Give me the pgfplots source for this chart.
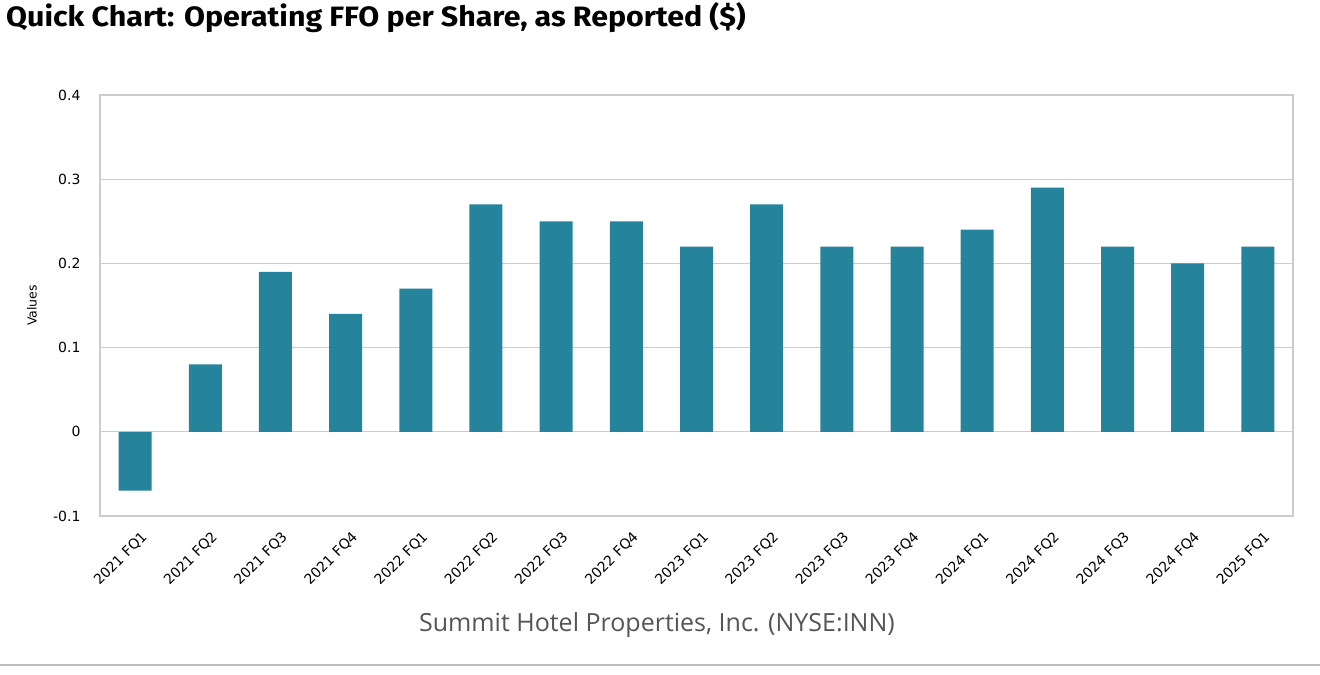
\documentclass[border=0pt]{standalone}
\usepackage{pgfplots}
\pgfplotsset{compat=1.18}
\usepackage{fontspec}
\setmainfont{DejaVu Sans}
\newfontfamily\titlefont{Fira Sans}
\newfontfamily\labfont{Open Sans}
\definecolor{barc}{HTML}{25839B}
\definecolor{gridc}{HTML}{CCCCCC}
\definecolor{labc}{HTML}{555555}
\begin{document}
\begin{tikzpicture}
\path[use as bounding box] (0,0) rectangle (1320bp,675bp);
\node[anchor=west, inner sep=0pt] at (6bp,657bp) {\titlefont\bfseries\fontsize{28bp}{32bp}\selectfont\scalebox{1.085}[1]{Quick Chart: Operating FFO per Share, as Reported (\$)}};
\begin{axis}[
  at={(100bp,159bp)}, anchor=south west,
  scale only axis, width=1193bp, height=421bp,
  xmin=-0.5, xmax=16.5, ymin=-0.1, ymax=0.4,
  ytick={-0.1,0,0.1,0.2,0.3,0.4},
  yticklabels={-0.1,0,0.1,0.2,0.3,0.4},
  xtick={0,...,16},
  xticklabels={2021 FQ1,2021 FQ2,2021 FQ3,2021 FQ4,2022 FQ1,2022 FQ2,2022 FQ3,2022 FQ4,2023 FQ1,2023 FQ2,2023 FQ3,2023 FQ4,2024 FQ1,2024 FQ2,2024 FQ3,2024 FQ4,2025 FQ1},
  /pgf/number format/assume math mode=true,
  major tick length=0pt,
  axis line style={draw=gridc, line width=1.2bp},
  ymajorgrids, major grid style={draw=gridc, line width=1bp},
  yticklabel style={font=\fontsize{14bp}{16bp}\selectfont, xshift=-16bp},
  xticklabel style={font=\fontsize{14bp}{16bp}\selectfont, rotate=45, anchor=east, xshift=-3bp, yshift=-20bp},
  ylabel={Values},
  every axis y label/.style={at={(axis description cs:-0.057,0.5)}, rotate=90, anchor=center, font=\fontsize{12.5bp}{14bp}\selectfont},
]
\addplot[ybar, bar width=33bp, fill=barc, draw=none] coordinates {
(0,-0.07) (1,0.08) (2,0.19) (3,0.14) (4,0.17) (5,0.27) (6,0.25) (7,0.25) (8,0.22)
(9,0.27) (10,0.22) (11,0.22) (12,0.24) (13,0.29) (14,0.22) (15,0.20) (16,0.22)};
\end{axis}
\node[text=labc, font=\labfont\fontsize{25bp}{29bp}\selectfont] at (657bp,50bp) {Summit Hotel Properties, Inc. (NYSE:INN)};
\draw[draw=gridc!80!gray, line width=1.2bp] (0,10bp) -- (1320bp,10bp);
\end{tikzpicture}
\end{document}
